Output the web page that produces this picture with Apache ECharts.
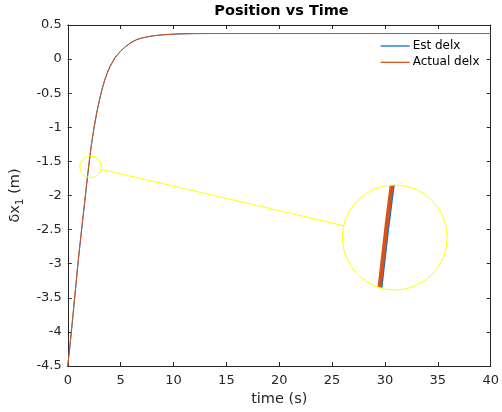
<!DOCTYPE html>
<html>
<head>
<meta charset="utf-8">
<script src="https://cdn.jsdelivr.net/npm/echarts@6/dist/echarts.min.js"></script>
<style>
  html, body { margin: 0; padding: 0; background: #ffffff; }
  #chart { width: 502px; height: 412px; }
</style>
</head>
<body>
<div id="chart"></div>
<script>
// Sample times (s) and the two position traces (m)
const timeS = [0, 0.25, 0.5, 0.75, 1, 1.25, 1.5, 1.75, 2, 2.25, 2.5, 2.75, 3, 3.25, 3.5, 3.75,
               4, 4.5, 5, 5.5, 6, 6.5, 7, 8, 9, 10, 11, 12, 14, 20, 30, 40];
const estDelx = [-4.50, -4.145, -3.755, -3.355, -2.955, -2.595, -2.245, -1.895, -1.555, -1.25, -1.00, -0.785,
                 -0.605, -0.44, -0.31, -0.20, -0.11, 0.025, 0.117, 0.187, 0.242, 0.283, 0.309, 0.34,
                 0.357, 0.366, 0.371, 0.374, 0.375, 0.375, 0.375, 0.375];
const actualDelx = [-4.50, -4.12, -3.73, -3.33, -2.93, -2.57, -2.22, -1.87, -1.53, -1.23, -0.98, -0.77,
                    -0.59, -0.43, -0.30, -0.19, -0.10, 0.03, 0.12, 0.19, 0.245, 0.285, 0.31, 0.34,
                    0.357, 0.366, 0.371, 0.374, 0.375, 0.375, 0.375, 0.375];
const seriesNames = ['Est delx', 'Actual delx'];

// Axis ranges and tick steps
const xRange = [0, 40];
const xStep = 5;
const yRange = [-4.5, 0.5];
const yStep = 0.5;

// Point of interest shown in the magnifier (time, position)
const lensFocus = [2.15, -1.58];

const FONT = 'DejaVu Sans';
const INK = '#262626';
const BLUE = '#0072BD';
const ORANGE = '#D95319';
const YELLOW = '#FFFF00';

const GRID = { left: 66, top: 25, right: 5, bottom: 46 };
const LENS = { cx: 394.8, cy: 237.5, r: 52.5 };   // magnified view
const SPOT_R = 10.8;                               // marked region on the main plot

const pairs = ys => timeS.map((t, i) => [t, ys[i]]);

const axisLineStyle = { color: INK, width: 1 };

function frameX(position, withLabels) {
  return {
    type: 'value', gridIndex: 0, position: position,
    min: xRange[0], max: xRange[1], interval: xStep,
    axisLine: { show: true, onZero: false, lineStyle: axisLineStyle },
    axisTick: { show: true, inside: true, length: 4, lineStyle: axisLineStyle },
    axisLabel: { show: withLabels, color: INK, fontSize: 13, fontFamily: FONT, margin: 8 },
    splitLine: { show: false }
  };
}
function frameY(position, withLabels) {
  return {
    type: 'value', gridIndex: 0, position: position,
    min: yRange[0], max: yRange[1], interval: yStep,
    axisLine: { show: true, onZero: false, lineStyle: axisLineStyle },
    axisTick: { show: true, inside: true, length: 4, lineStyle: axisLineStyle },
    axisLabel: { show: withLabels, color: INK, fontSize: 13, fontFamily: FONT, margin: 6 },
    splitLine: { show: false }
  };
}

const xBottom = Object.assign(frameX('bottom', true), {
  name: 'time (s)', nameLocation: 'middle', nameGap: 24,
  nameTextStyle: { color: INK, fontSize: 14.5, fontFamily: FONT }
});
const yLeft = Object.assign(frameY('left', true), {
  name: '{m|δx}{s|1}{m| (m)}', nameLocation: 'middle', nameGap: 37,
  nameTextStyle: {
    color: INK, fontFamily: FONT,
    rich: {
      m: { fontSize: 14.5, color: INK, fontFamily: FONT, lineHeight: 20, verticalAlign: 'middle' },
      s: { fontSize: 10.5, color: INK, fontFamily: FONT, lineHeight: 20, verticalAlign: 'bottom' }
    }
  }
});

const hiddenAxis = { type: 'value', gridIndex: 1, show: false, min: 0, max: 1 };

function traceSeries(id, name, ys, color, width, xi, yi) {
  return {
    id: id, type: 'line', name: name, data: pairs(ys),
    xAxisIndex: xi, yAxisIndex: yi,
    showSymbol: false, symbol: 'none', smooth: false, clip: true,
    lineStyle: { color: color, width: width },
    itemStyle: { color: color },
    emphasis: { disabled: true }
  };
}

const chart = echarts.init(document.getElementById('chart'), null, { renderer: 'canvas' });

chart.setOption({
  animation: false,
  backgroundColor: '#ffffff',
  title: {
    text: 'Position vs Time', left: 281.5, top: 4, padding: 0, textAlign: 'center',
    textStyle: { fontSize: 14.5, fontWeight: 'bold', color: '#000000', fontFamily: FONT }
  },
  legend: {
    data: seriesNames, orient: 'vertical', left: 380, top: 40, padding: 0,
    itemWidth: 29, itemHeight: 12, itemGap: 4.3, selectedMode: false,
    itemStyle: { opacity: 0 },
    lineStyle: { width: 1.3 },
    textStyle: { fontSize: 12, color: '#000000', fontFamily: FONT, padding: [0, 0, 0, -2] }
  },
  grid: [
    Object.assign({ containLabel: false, show: false }, GRID),
    { left: LENS.cx - LENS.r, top: LENS.cy - LENS.r, width: 2 * LENS.r, height: 2 * LENS.r, show: false }
  ],
  xAxis: [xBottom, frameX('top', false), hiddenAxis],
  yAxis: [yLeft, frameY('right', false), hiddenAxis],
  series: [
    traceSeries('est-main', seriesNames[0], estDelx, BLUE, 1, 0, 0),
    traceSeries('actual-main', seriesNames[1], actualDelx, ORANGE, 1, 0, 0)
  ]
});

// Map the marked region on the main axes into the magnifier's axes
const spot = chart.convertToPixel({ xAxisIndex: 0, yAxisIndex: 0 }, lensFocus);
const lo = chart.convertFromPixel({ xAxisIndex: 0, yAxisIndex: 0 }, [spot[0] - SPOT_R, spot[1] + SPOT_R]);
const hi = chart.convertFromPixel({ xAxisIndex: 0, yAxisIndex: 0 }, [spot[0] + SPOT_R, spot[1] - SPOT_R]);

// Connector between the two circles
const dx = LENS.cx - spot[0], dy = LENS.cy - spot[1];
const len = Math.hypot(dx, dy);
const ux = dx / len, uy = dy / len;

chart.setOption({
  xAxis: [{}, {}, { min: lo[0], max: hi[0] }],
  yAxis: [{}, {}, { min: lo[1], max: hi[1] }],
  series: [
    traceSeries('est-main', seriesNames[0], estDelx, BLUE, 1, 0, 0),
    traceSeries('actual-main', seriesNames[1], actualDelx, ORANGE, 1, 0, 0),
    traceSeries('est-lens', seriesNames[0], estDelx, BLUE, 4, 2, 2),
    traceSeries('actual-lens', seriesNames[1], actualDelx, ORANGE, 4, 2, 2)
  ],
  graphic: [
    { type: 'ring', silent: true, z: 100,
      shape: { cx: LENS.cx, cy: LENS.cy, r: LENS.r * 1.45, r0: LENS.r },
      style: { fill: '#ffffff' } },
    { type: 'circle', silent: true, z: 110,
      shape: { cx: LENS.cx, cy: LENS.cy, r: LENS.r },
      style: { fill: 'none', stroke: YELLOW, lineWidth: 1 } },
    { type: 'circle', silent: true, z: 110,
      shape: { cx: spot[0], cy: spot[1], r: SPOT_R },
      style: { fill: 'none', stroke: YELLOW, lineWidth: 1 } },
    { type: 'line', silent: true, z: 110,
      shape: { x1: spot[0] + SPOT_R * ux, y1: spot[1] + SPOT_R * uy,
               x2: LENS.cx - LENS.r * ux, y2: LENS.cy - LENS.r * uy },
      style: { stroke: YELLOW, lineWidth: 1 } }
  ]
});
</script>
</body>
</html>
